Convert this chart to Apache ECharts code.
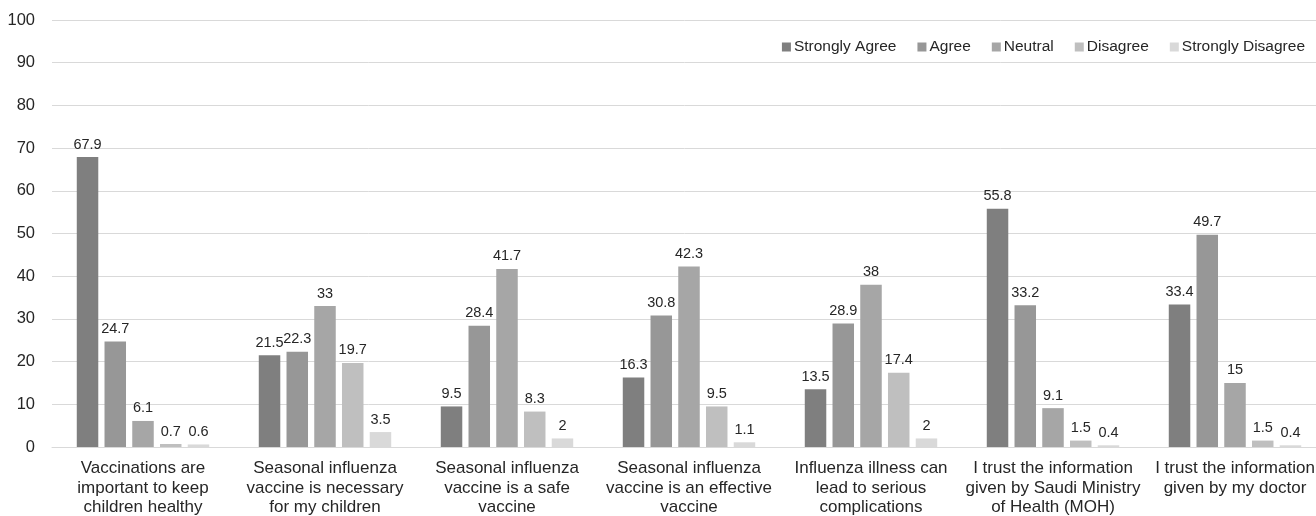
<!DOCTYPE html>
<html>
<head>
<meta charset="utf-8">
<script src="https://cdn.jsdelivr.net/npm/echarts@6/dist/echarts.min.js"></script>
<style>
  html, body { margin: 0; padding: 0; background: #fff; }
  #chart { width: 1316px; height: 516px; }
</style>
</head>
<body>
<div id="chart"></div>
<script>
const categories = [
  'Vaccinations are\nimportant to keep\nchildren healthy',
  'Seasonal influenza\nvaccine is necessary\nfor my children',
  'Seasonal influenza\nvaccine is a safe\nvaccine',
  'Seasonal influenza\nvaccine is an effective\nvaccine',
  'Influenza illness can\nlead to serious\ncomplications',
  'I trust the information\ngiven by Saudi Ministry\nof Health (MOH)',
  'I trust the information\ngiven by my doctor'
];
const seriesNames = ['Strongly Agree', 'Agree', 'Neutral', 'Disagree', 'Strongly Disagree'];
const stronglyAgree = [67.9, 21.5, 9.5, 16.3, 13.5, 55.8, 33.4];
const agree = [24.7, 22.3, 28.4, 30.8, 28.9, 33.2, 49.7];
const neutral = [6.1, 33, 41.7, 42.3, 38, 9.1, 15];
const disagree = [0.7, 19.7, 8.3, 9.5, 17.4, 1.5, 1.5];
const stronglyDisagree = [0.6, 3.5, 2, 1.1, 2, 0.4, 0.4];
const colors = ['#7f7f7f', '#979797', '#a6a6a6', '#bfbfbf', '#d9d9d9'];

const fontFamily = "'Liberation Sans', Arial, sans-serif";
const allValues = [stronglyAgree, agree, neutral, disagree, stronglyDisagree];

const chart = echarts.init(document.getElementById('chart'));

const option = {
  backgroundColor: '#fff',
  animation: false,
  textStyle: { fontFamily: fontFamily },
  grid: {
    left: 52,
    right: -10,
    top: 20,
    bottom: 69,
    containLabel: false,
    outerBoundsMode: 'none' // 라벨 때문에 그리드가 줄어들지 않게
  },
  legend: {
    right: 6,
    top: 34,
    icon: 'rect',
    itemWidth: 9,
    itemHeight: 9,
    itemGap: 21,
    textStyle: { fontSize: 15.5, color: '#262626', fontFamily: fontFamily, padding: [0, 0, 0, -2] },
    data: seriesNames
  },
  xAxis: {
    type: 'category',
    data: categories,
    axisTick: { show: false },
    axisLine: { lineStyle: { color: '#d9d9d9', width: 1 } },
    axisLabel: {
      interval: 0,
      fontSize: 17,
      color: '#262626',
      lineHeight: 19.5,
      margin: 12,
      hideOverlap: false,
      fontFamily: fontFamily
    }
  },
  yAxis: {
    type: 'value',
    min: 0,
    max: 100,
    interval: 10,
    axisLine: { show: false },
    axisTick: { show: false },
    axisLabel: { fontSize: 16.5, color: '#262626', margin: 17, fontFamily: fontFamily },
    splitLine: { lineStyle: { color: '#d9d9d9', width: 1 } }
  },
  series: seriesNames.map((name, i) => ({
    name: name,
    type: 'bar',
    data: allValues[i],
    barWidth: 21.5,
    barGap: '29%',
    itemStyle: { color: colors[i] },
    label: {
      show: true,
      position: 'top',
      distance: 5,
      fontSize: 14.5,
      color: '#262626',
      fontFamily: fontFamily
    },
    emphasis: { disabled: true }
  }))
};

chart.setOption(option);
</script>
</body>
</html>
